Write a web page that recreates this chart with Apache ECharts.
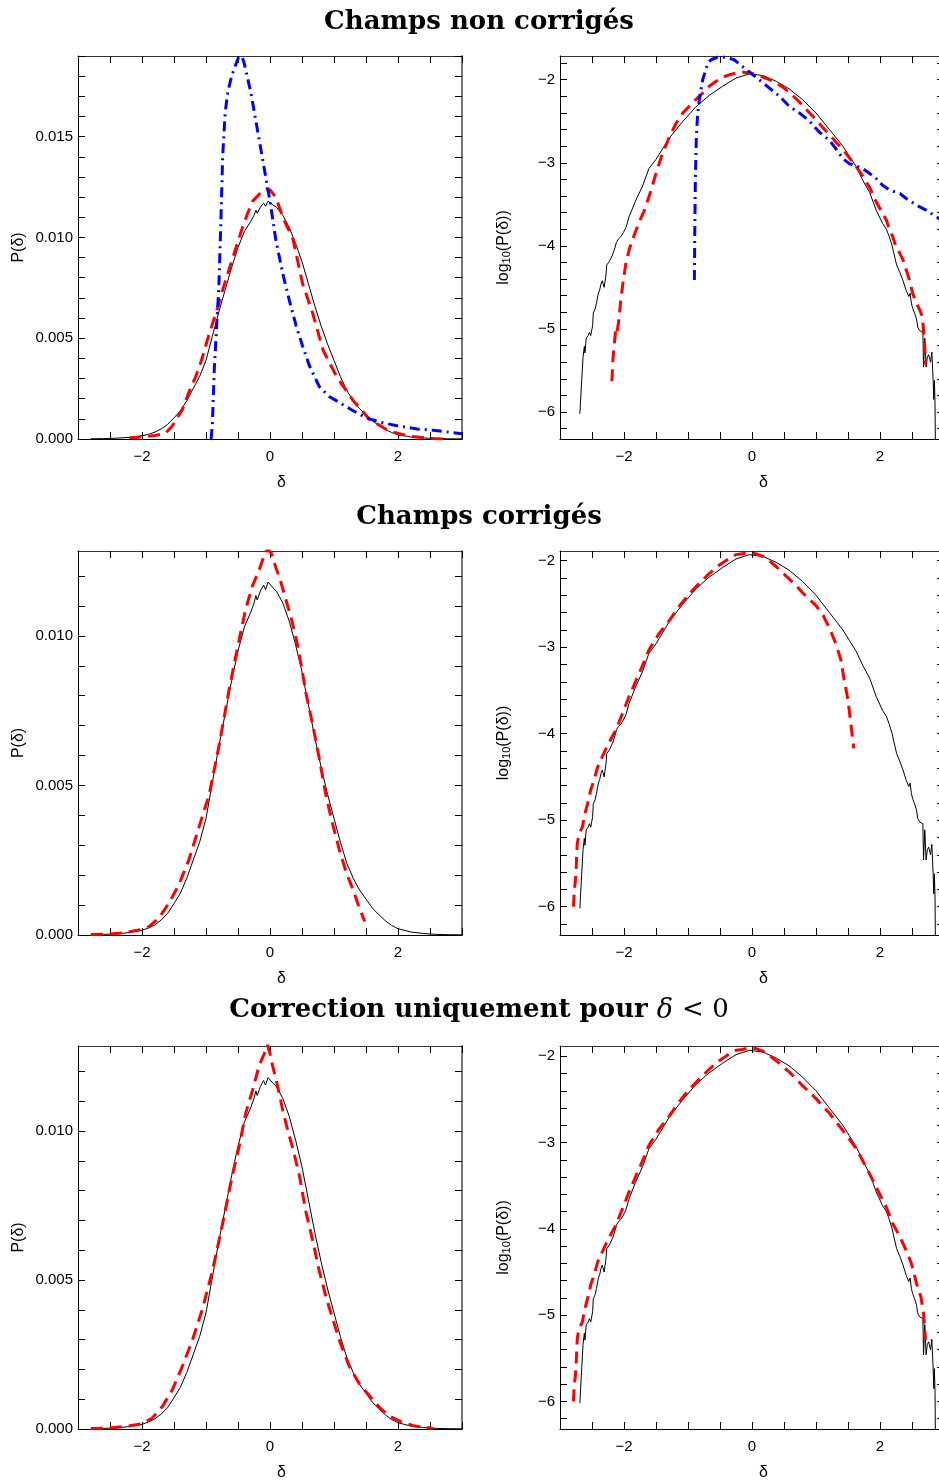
<!DOCTYPE html>
<html>
<head>
<meta charset="utf-8">
<script src="https://cdn.jsdelivr.net/npm/echarts@6/dist/echarts.min.js"></script>
<style>
  html, body { margin: 0; padding: 0; background: #fff; }
  #chart { width: 939px; height: 1484px; }
</style>
</head>
<body>
<div id="chart"></div>
<script>
// ---- Data: [delta, value] pairs -------------------------------------------
// Reference distribution (black), linear P(delta)
const blackLin = [[-2.8,0.00001],[-2.6,0.00002],[-2.4,0.00004],[-2.2,0.00008],[-2.0,0.00016],[-1.9,0.00023],[-1.8,0.00034],[-1.7,0.0005],[-1.6,0.00072],[-1.5,0.00105],[-1.4,0.0014],[-1.3,0.0019],[-1.2,0.0025],[-1.1,0.0031],[-1.0,0.0039],[-0.9,0.0051],[-0.8,0.0063],[-0.7,0.0074],[-0.6,0.0085],[-0.5,0.0095],[-0.4,0.0103],[-0.3,0.0108],[-0.25,0.0111],[-0.22,0.01135],[-0.2,0.0112],[-0.15,0.0115],[-0.1,0.0117],[-0.07,0.01155],[-0.03,0.0118],[0.0,0.01175],[0.05,0.0116],[0.1,0.0115],[0.2,0.0111],[0.3,0.0105],[0.4,0.0097],[0.5,0.0088],[0.6,0.0077],[0.7,0.0066],[0.8,0.0056],[0.9,0.0047],[1.0,0.0039],[1.1,0.0031],[1.2,0.0024],[1.3,0.0019],[1.4,0.0015],[1.5,0.0012],[1.6,0.0009],[1.7,0.00068],[1.8,0.00048],[1.9,0.00032],[2.0,0.00021],[2.2,0.0001],[2.4,0.00005],[2.6,0.00002],[2.8,0.00001],[3.0,0.000005]];

// Reference distribution (black), log10 P(delta)
const blackLog = [[-2.69,-6.02],[-2.66,-5.61],[-2.64,-5.34],[-2.62,-5.21],[-2.61,-5.29],[-2.59,-5.11],[-2.56,-5.08],[-2.54,-5.04],[-2.52,-5.08],[-2.49,-4.96],[-2.48,-4.81],[-2.45,-4.76],[-2.43,-4.69],[-2.40,-4.57],[-2.38,-4.53],[-2.36,-4.46],[-2.34,-4.42],[-2.31,-4.50],[-2.28,-4.34],[-2.27,-4.23],[-2.23,-4.19],[-2.18,-4.11],[-2.14,-4.02],[-2.12,-3.96],[-2.09,-3.92],[-2.05,-3.89],[-2.01,-3.84],[-1.97,-3.78],[-1.92,-3.65],[-1.82,-3.46],[-1.71,-3.28],[-1.61,-3.07],[-1.50,-2.96],[-1.29,-2.70],[-1.09,-2.51],[-0.88,-2.33],[-0.67,-2.19],[-0.46,-2.08],[-0.25,-1.98],[-0.04,-1.93],[0.17,-1.95],[0.38,-2.02],[0.58,-2.11],[0.79,-2.24],[1.00,-2.40],[1.21,-2.60],[1.42,-2.80],[1.52,-2.92],[1.63,-3.05],[1.73,-3.21],[1.84,-3.36],[1.94,-3.57],[2.04,-3.73],[2.10,-3.80],[2.14,-3.88],[2.16,-3.86],[2.19,-4.00],[2.21,-4.07],[2.24,-4.06],[2.26,-4.23],[2.31,-4.32],[2.36,-4.42],[2.41,-4.54],[2.45,-4.61],[2.47,-4.57],[2.49,-4.69],[2.51,-4.75],[2.54,-4.81],[2.57,-4.88],[2.59,-4.98],[2.62,-5.02],[2.65,-5.02],[2.67,-5.04],[2.68,-5.46],[2.70,-5.11],[2.72,-5.46],[2.74,-5.34],[2.76,-5.31],[2.79,-5.40],[2.81,-5.28],[2.83,-5.61],[2.84,-5.85],[2.85,-5.62],[2.86,-5.90],[2.87,-6.80]];

// Uncorrected fields (red dashed, blue dash-dot)
const redLin1 = [[-2.2,0.00005],[-2.0,0.0001],[-1.8,0.00017],[-1.63,0.0003],[-1.53,0.00063],[-1.37,0.00145],[-1.27,0.0023],[-1.16,0.0031],[-1.06,0.0040],[-0.98,0.0049],[-0.9,0.0057],[-0.82,0.0065],[-0.74,0.0074],[-0.64,0.0084],[-0.53,0.0095],[-0.44,0.0104],[-0.35,0.0112],[-0.27,0.0118],[-0.12,0.0123],[-0.06,0.0124],[0.0,0.01235],[0.09,0.0120],[0.2,0.0110],[0.36,0.0099],[0.51,0.0077],[0.67,0.0062],[0.83,0.0044],[1.04,0.0031],[1.3,0.0019],[1.56,0.00096],[1.87,0.00038],[2.19,0.00013],[2.5,0.00003],[2.75,0.0]];
const redLog1 = [[-2.19,-5.63],[-2.17,-5.33],[-2.13,-5.01],[-2.11,-5.05],[-2.08,-4.89],[-2.05,-4.65],[-2.01,-4.41],[-1.97,-4.21],[-1.92,-4.05],[-1.87,-3.93],[-1.81,-3.81],[-1.76,-3.71],[-1.68,-3.57],[-1.61,-3.41],[-1.50,-3.13],[-1.40,-2.89],[-1.29,-2.69],[-1.19,-2.53],[-1.08,-2.40],[-0.98,-2.32],[-0.88,-2.24],[-0.77,-2.16],[-0.67,-2.08],[-0.56,-2.02],[-0.46,-1.97],[-0.35,-1.94],[-0.25,-1.92],[-0.15,-1.91],[-0.04,-1.92],[0.06,-1.94],[0.17,-1.97],[0.27,-2.0],[0.38,-2.04],[0.48,-2.09],[0.58,-2.15],[0.69,-2.23],[0.79,-2.31],[0.90,-2.40],[1.00,-2.48],[1.11,-2.58],[1.21,-2.66],[1.31,-2.75],[1.42,-2.84],[1.52,-2.94],[1.63,-3.05],[1.73,-3.16],[1.84,-3.30],[1.94,-3.47],[2.04,-3.61],[2.10,-3.69],[2.15,-3.81],[2.20,-3.89],[2.25,-4.01],[2.31,-4.09],[2.36,-4.17],[2.41,-4.29],[2.46,-4.41],[2.51,-4.57],[2.57,-4.69],[2.62,-4.77],[2.66,-4.85],[2.68,-5.01],[2.70,-5.21],[2.71,-5.43]];
const blueLin1 = [[-0.92,0.0],[-0.9,0.0008],[-0.87,0.0035],[-0.84,0.0052],[-0.8,0.0075],[-0.77,0.0105],[-0.74,0.014],[-0.7,0.0162],[-0.66,0.0172],[-0.6,0.018],[-0.52,0.0187],[-0.46,0.0192],[-0.4,0.0186],[-0.3,0.0172],[-0.2,0.0154],[-0.1,0.0136],[0.0,0.0118],[0.09,0.0099],[0.2,0.0082],[0.3,0.0069],[0.41,0.0056],[0.51,0.0046],[0.62,0.0036],[0.77,0.0026],[0.93,0.0021],[1.09,0.0018],[1.3,0.0014],[1.51,0.00104],[1.77,0.0008],[2.03,0.00063],[2.3,0.0005],[2.56,0.00043],[2.82,0.00033],[3.0,0.00026]];
const blueLog1 = [[-0.90,-4.41],[-0.895,-3.9],[-0.885,-3.2],[-0.87,-2.7],[-0.85,-2.42],[-0.82,-2.22],[-0.77,-2.0],[-0.69,-1.80],[-0.64,-1.76],[-0.54,-1.73],[-0.41,-1.73],[-0.28,-1.76],[-0.15,-1.84],[-0.02,-1.92],[0.11,-2.0],[0.27,-2.10],[0.43,-2.20],[0.58,-2.32],[0.74,-2.40],[0.90,-2.50],[1.05,-2.63],[1.21,-2.73],[1.31,-2.83],[1.42,-2.95],[1.52,-3.01],[1.63,-3.04],[1.73,-3.07],[1.84,-3.13],[1.94,-3.19],[2.04,-3.27],[2.15,-3.33],[2.31,-3.37],[2.41,-3.43],[2.57,-3.51],[2.72,-3.57],[2.92,-3.67],[3.0,-3.72]];

// Corrected fields (red dashed)
const redLin2 = [[-2.8,0.00002],[-2.52,0.00003],[-2.26,0.00008],[-2.05,0.00017],[-1.89,0.00028],[-1.74,0.00056],[-1.58,0.00106],[-1.42,0.0017],[-1.27,0.0025],[-1.11,0.0036],[-0.95,0.0047],[-0.79,0.0064],[-0.64,0.0082],[-0.48,0.0099],[-0.38,0.0109],[-0.27,0.0117],[-0.17,0.0122],[-0.09,0.0127],[-0.04,0.0129],[0.02,0.01277],[0.09,0.0123],[0.17,0.0118],[0.25,0.0112],[0.33,0.0106],[0.41,0.0099],[0.49,0.0090],[0.56,0.0081],[0.67,0.0070],[0.77,0.0059],[0.88,0.0046],[0.98,0.0037],[1.09,0.0028],[1.19,0.0021],[1.30,0.0015],[1.38,0.0010],[1.48,0.00045]];
const redLog2 = [[-2.79,-6.0],[-2.78,-5.85],[-2.76,-5.7],[-2.75,-5.61],[-2.74,-5.42],[-2.73,-5.27],[-2.70,-5.15],[-2.65,-5.08],[-2.62,-4.95],[-2.57,-4.81],[-2.52,-4.65],[-2.47,-4.54],[-2.41,-4.38],[-2.36,-4.30],[-2.28,-4.17],[-2.21,-4.07],[-2.13,-3.96],[-2.02,-3.76],[-1.92,-3.57],[-1.81,-3.38],[-1.71,-3.21],[-1.61,-3.03],[-1.45,-2.84],[-1.29,-2.69],[-1.14,-2.53],[-0.98,-2.38],[-0.82,-2.26],[-0.67,-2.15],[-0.51,-2.05],[-0.35,-1.97],[-0.25,-1.93],[-0.15,-1.92],[-0.04,-1.91],[0.06,-1.92],[0.17,-1.95],[0.27,-2.0],[0.38,-2.07],[0.48,-2.14],[0.58,-2.21],[0.69,-2.29],[0.79,-2.37],[0.90,-2.45],[1.0,-2.52],[1.11,-2.63],[1.21,-2.78],[1.31,-2.96],[1.39,-3.15],[1.44,-3.38],[1.50,-3.61],[1.55,-3.92],[1.59,-4.17]];

// Correction applied only for delta < 0 (red dashed)
const redLin3 = [[-2.8,0.00002],[-2.52,0.00003],[-2.21,0.0001],[-2.0,0.00018],[-1.84,0.00037],[-1.68,0.00076],[-1.53,0.0013],[-1.37,0.0021],[-1.21,0.0030],[-1.06,0.0040],[-0.90,0.0053],[-0.74,0.0069],[-0.59,0.0085],[-0.48,0.0095],[-0.38,0.0106],[-0.27,0.0114],[-0.17,0.0122],[-0.09,0.0126],[-0.04,0.0129],[0.0,0.0126],[0.04,0.0122],[0.12,0.0115],[0.20,0.0107],[0.28,0.0100],[0.36,0.0094],[0.46,0.0085],[0.56,0.0073],[0.67,0.0063],[0.77,0.0053],[0.88,0.0044],[0.98,0.0037],[1.08,0.0030],[1.24,0.0021],[1.40,0.0015],[1.56,0.0011],[1.72,0.0007],[1.88,0.00042],[2.03,0.00026],[2.24,0.00011],[2.55,0.00002]];
const redLog3 = [[-2.79,-6.0],[-2.78,-5.85],[-2.76,-5.7],[-2.75,-5.61],[-2.74,-5.42],[-2.73,-5.27],[-2.70,-5.15],[-2.65,-5.08],[-2.62,-4.95],[-2.57,-4.81],[-2.52,-4.65],[-2.47,-4.54],[-2.41,-4.38],[-2.36,-4.30],[-2.28,-4.17],[-2.21,-4.07],[-2.13,-3.96],[-2.02,-3.76],[-1.92,-3.57],[-1.81,-3.38],[-1.71,-3.21],[-1.61,-3.03],[-1.45,-2.84],[-1.29,-2.69],[-1.14,-2.53],[-0.98,-2.38],[-0.82,-2.26],[-0.67,-2.15],[-0.51,-2.05],[-0.35,-1.97],[-0.25,-1.93],[-0.15,-1.92],[-0.04,-1.90],[0.06,-1.91],[0.17,-1.94],[0.38,-2.05],[0.58,-2.18],[0.79,-2.34],[1.0,-2.49],[1.21,-2.66],[1.42,-2.86],[1.63,-3.07],[1.78,-3.28],[1.89,-3.44],[1.99,-3.59],[2.10,-3.75],[2.20,-3.94],[2.31,-4.09],[2.41,-4.25],[2.49,-4.40],[2.57,-4.63],[2.64,-4.79],[2.68,-4.98],[2.70,-5.17],[2.71,-5.29]];

// Axis ranges and tick labels
const xRange = [-3, 3];
const xLabels = [-2, 0, 2];
const linLabelsRow1 = [0, 0.005, 0.010, 0.015];
const linLabels = [0, 0.005, 0.010];
const logLabels = [-6, -5, -4, -3, -2];
const yRanges = {
  lin1: [0, 0.019],      log1: [-6.325, -1.715],
  lin2: [0, 0.01284],    log2: [-6.327, -1.888],
  lin3: [0, 0.01286],    log3: [-6.32, -1.88]
};
const rowTitles = [
  'Champs non corrigés',
  'Champs corrigés',
  'Correction uniquement pour {m|δ} {r|< 0}'
];

// ---- Layout & styling ------------------------------------------------------
const SANS = '"Liberation Sans", Arial, Helvetica, sans-serif';
const SERIF = '"DejaVu Serif", "Liberation Serif", serif';
const LEFT_COL = 78, RIGHT_COL = 560, PLOT_W = 384;
const rows = [{ top: 56, h: 383 }, { top: 551, h: 384 }, { top: 1046, h: 383 }];

function steps(lo, hi, step) {
  const out = [];
  for (let i = Math.ceil(lo / step - 1e-9); i <= Math.floor(hi / step + 1e-9); i++) {
    out.push(+(i * step).toFixed(6));
  }
  return out;
}
const signed = v => (v < 0 ? '\u2212' + Math.abs(v) : String(v));

const STYLE = {
  black: { color: '#000000', width: 1, type: 'solid' },
  red: { color: '#ff0000', width: 3, type: [12, 7] },
  blue: { color: '#0000ff', width: 3, type: [10, 5, 2, 5] }
};

const panels = [
  { col: LEFT_COL,  row: 0, kind: 'lin', range: yRanges.lin1, labels: linLabelsRow1, curves: [['black', blackLin], ['red', redLin1], ['blue', blueLin1]] },
  { col: RIGHT_COL, row: 0, kind: 'log', range: yRanges.log1, labels: logLabels,     curves: [['black', blackLog], ['red', redLog1], ['blue', blueLog1]] },
  { col: LEFT_COL,  row: 1, kind: 'lin', range: yRanges.lin2, labels: linLabels,     curves: [['black', blackLin], ['red', redLin2]] },
  { col: RIGHT_COL, row: 1, kind: 'log', range: yRanges.log2, labels: logLabels,     curves: [['black', blackLog], ['red', redLog2]] },
  { col: LEFT_COL,  row: 2, kind: 'lin', range: yRanges.lin3, labels: linLabels,     curves: [['black', blackLin], ['red', redLin3]] },
  { col: RIGHT_COL, row: 2, kind: 'log', range: yRanges.log3, labels: logLabels,     curves: [['black', blackLog], ['red', redLog3]] }
];

const grid = [], xAxis = [], yAxis = [], series = [];
const xTicks = steps(xRange[0], xRange[1], 0.5);

panels.forEach((p, g) => {
  const r = rows[p.row];
  // the right-hand column runs slightly past the page edge, so no bounds fitting
  grid.push({ left: p.col, top: r.top, width: PLOT_W, height: r.h, containLabel: false, outerBoundsMode: 'none' });

  const tickStep = p.kind === 'lin' ? 0.001 : 0.2;
  const yTicks = steps(p.range[0], p.range[1], tickStep);
  const tick = vals => ({ show: true, inside: true, length: 7, customValues: vals, lineStyle: { color: '#000', width: 1 } });

  // bottom x axis (labelled) and top x axis (ticks only)
  xAxis.push({
    type: 'value', gridIndex: g, position: 'bottom', min: xRange[0], max: xRange[1],
    axisLine: { onZero: false, lineStyle: { color: '#000', width: 1 } },
    axisTick: tick(xTicks),
    axisLabel: { customValues: xLabels, formatter: signed, margin: 10, fontSize: 15, color: '#000', fontFamily: SANS },
    splitLine: { show: false },
    name: 'δ', nameLocation: 'middle', nameGap: 36,
    nameTextStyle: { fontSize: 16, color: '#000', fontFamily: SANS, padding: [0, 0, 0, 23] }
  });
  xAxis.push({
    type: 'value', gridIndex: g, position: 'top', min: xRange[0], max: xRange[1],
    axisLine: { onZero: false, lineStyle: { color: '#333', width: 1 } },
    axisTick: tick(xTicks), axisLabel: { show: false }, splitLine: { show: false }
  });

  // left y axis (labelled) and right y axis (ticks only)
  const isLin = p.kind === 'lin';
  yAxis.push({
    type: 'value', gridIndex: g, position: 'left', min: p.range[0], max: p.range[1],
    axisLine: { onZero: false, lineStyle: { color: '#000', width: 1 } },
    axisTick: tick(yTicks),
    axisLabel: {
      customValues: p.labels,
      formatter: isLin ? (v => v.toFixed(3)) : signed,
      margin: 5, fontSize: 15, color: '#000', fontFamily: SANS
    },
    splitLine: { show: false },
    name: isLin ? 'P(δ)' : 'log{s|10}(P(δ))',
    nameLocation: 'middle', nameGap: isLin ? 51 : 48,
    nameTextStyle: {
      fontSize: 16, color: '#000', fontFamily: SANS,
      rich: { s: { fontSize: 11, fontFamily: SANS, color: '#000', verticalAlign: 'bottom', padding: [5, 0, 0, 0] } }
    }
  });
  yAxis.push({
    type: 'value', gridIndex: g, position: 'right', min: p.range[0], max: p.range[1],
    axisLine: { onZero: false, lineStyle: { color: '#777', width: 2 } },
    axisTick: tick(yTicks), axisLabel: { show: false }, splitLine: { show: false }
  });

  p.curves.forEach(([style, data], k) => {
    series.push({
      type: 'line', xAxisIndex: 2 * g, yAxisIndex: 2 * g, data: data,
      showSymbol: false, symbol: 'none', clip: true, z: 2 + k,
      lineStyle: Object.assign({ cap: 'butt', join: 'round' }, STYLE[style]),
      emphasis: { disabled: true }
    });
  });
});

// Row headings
const titleY = [22.5, 517.5, 1010.5];
const graphic = rowTitles.map((t, i) => ({
  type: 'text', x: 479, y: titleY[i], silent: true,
  style: {
    text: t, fill: '#000', align: 'center', verticalAlign: 'middle',
    font: 'bold 26px ' + SERIF,
    rich: {
      m: { fontFamily: SERIF, fontSize: 27, fontStyle: 'italic', fontWeight: 'normal', fill: '#000' },
      r: { fontFamily: SERIF, fontSize: 26, fontStyle: 'normal', fontWeight: 'normal', fill: '#000' }
    }
  }
}));

const chart = echarts.init(document.getElementById('chart'), null, { renderer: 'canvas' });
chart.setOption({
  animation: false,
  backgroundColor: '#ffffff',
  grid, xAxis, yAxis, series, graphic
});
</script>
</body>
</html>
